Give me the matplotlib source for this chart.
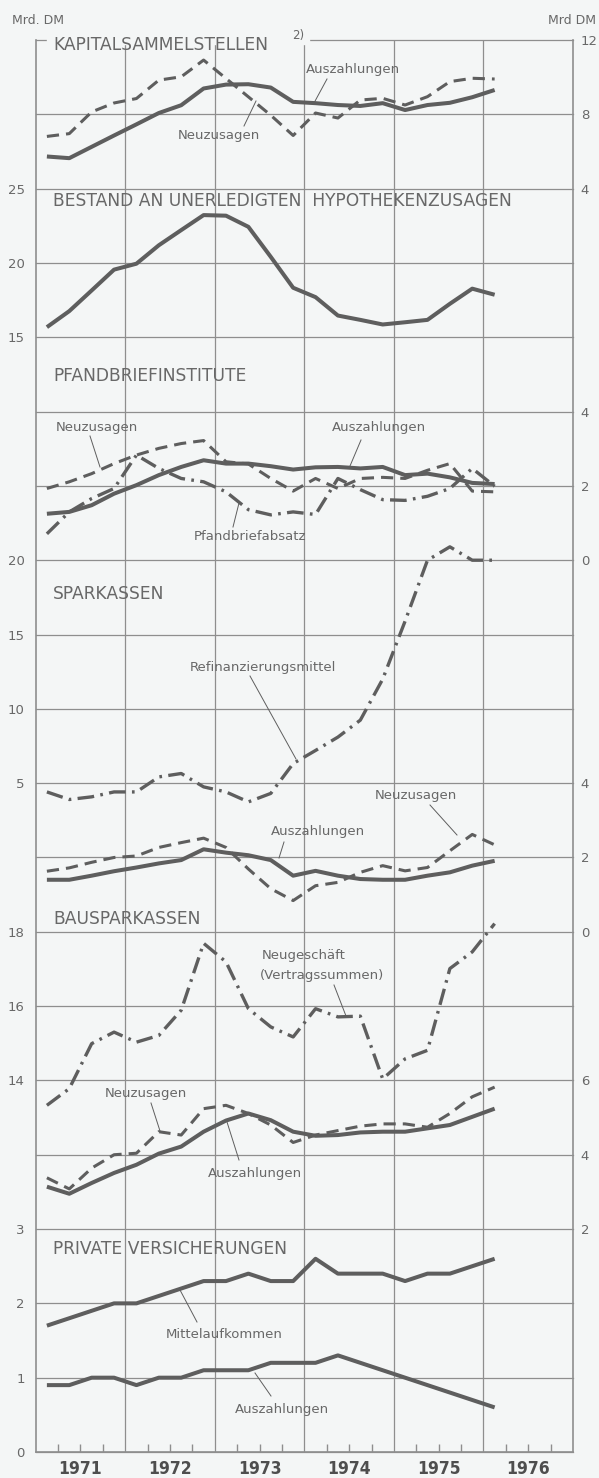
import matplotlib
matplotlib.use('Agg')
import matplotlib.pyplot as plt
import numpy as np
from matplotlib.patches import Rectangle

plt.rcParams['font.family'] = ['DejaVu Sans']

# ---------------- data (Mrd DM, quarterly 1971 Q1 .. 1976 Q1) ----------------
start_year = 1971
n_quarters = 21
year_labels = ['1971', '1972', '1973', '1974', '1975', '1976']

kap_auszahlungen = [5.73, 5.64, 6.25, 6.86, 7.46, 8.07, 8.49, 9.39, 9.60, 9.62, 9.44,
                    8.67, 8.60, 8.50, 8.45, 8.60, 8.23, 8.50, 8.62, 8.92, 9.31]
kap_neuzusagen = [6.81, 6.96, 8.13, 8.61, 8.85, 9.84, 10.02, 10.92, 9.93, 8.94, 7.95,
                  6.86, 8.07, 7.80, 8.77, 8.86, 8.50, 8.95, 9.76, 9.94, 9.90]
bestand = [15.68, 16.76, 18.15, 19.55, 19.95, 21.19, 22.21, 23.22, 23.18, 22.43, 20.41,
           18.33, 17.70, 16.46, 16.17, 15.86, 16.01, 16.17, 17.25, 18.27, 17.86]
pf_auszahlungen = [1.25, 1.30, 1.48, 1.79, 2.02, 2.29, 2.51, 2.69, 2.60, 2.60, 2.53,
                   2.44, 2.50, 2.51, 2.47, 2.51, 2.29, 2.33, 2.23, 2.08, 2.05]
pf_neuzusagen = [1.93, 2.11, 2.33, 2.60, 2.83, 3.01, 3.14, 3.22, 2.65, 2.59, 2.20,
                 1.86, 2.20, 1.93, 2.20, 2.23, 2.20, 2.42, 2.60, 1.86, 1.84]
pf_absatz = [0.71, 1.30, 1.66, 1.93, 2.83, 2.47, 2.20, 2.11, 1.84, 1.36, 1.22,
             1.30, 1.23, 2.20, 1.90, 1.63, 1.61, 1.72, 1.93, 2.47, 1.99]
sp_refinanz = [4.41, 3.90, 4.08, 4.41, 4.41, 5.42, 5.65, 4.75, 4.41, 3.74, 4.31,
               6.32, 7.20, 8.10, 9.24, 12.00, 15.90, 20.00, 20.90, 20.00, 20.00]
sp_neuzusagen = [1.63, 1.72, 1.87, 2.00, 2.04, 2.27, 2.40, 2.52, 2.27, 1.69, 1.16,
                 0.84, 1.24, 1.33, 1.60, 1.78, 1.64, 1.73, 2.18, 2.62, 2.34]
sp_auszahlungen = [1.40, 1.40, 1.51, 1.63, 1.73, 1.84, 1.93, 2.22, 2.13, 2.06, 1.93,
                   1.51, 1.64, 1.51, 1.42, 1.40, 1.40, 1.51, 1.60, 1.78, 1.91]
bs_neugeschaeft = [13.33, 13.78, 14.99, 15.30, 15.03, 15.21, 15.89, 17.69, 17.19, 15.93, 15.44,
                   15.17, 15.93, 15.71, 15.73, 14.04, 14.58, 14.81, 17.01, 17.46, 18.22]
bs_auszahlungen = [3.14, 2.95, 3.24, 3.51, 3.73, 4.03, 4.22, 4.62, 4.92, 5.11, 4.93,
                   4.62, 4.51, 4.53, 4.60, 4.62, 4.62, 4.71, 4.80, 5.02, 5.24]
bs_neuzusagen = [3.38, 3.08, 3.64, 4.00, 4.04, 4.62, 4.53, 5.24, 5.33, 5.11, 4.80,
                 4.33, 4.53, 4.65, 4.77, 4.83, 4.83, 4.74, 5.11, 5.56, 5.82]
pv_mittelaufkommen = [1.7, 1.8, 1.9, 2.0, 2.0, 2.1, 2.2, 2.3, 2.3, 2.4, 2.3,
                      2.3, 2.6, 2.4, 2.4, 2.4, 2.3, 2.4, 2.4, 2.5, 2.6]
pv_auszahlungen = [0.9, 0.9, 1.0, 1.0, 0.9, 1.0, 1.0, 1.1, 1.1, 1.1, 1.2,
                   1.2, 1.2, 1.3, 1.2, 1.1, 1.0, 0.9, 0.8, 0.7, 0.6]

# ---------------- styling ----------------
W, H = 599, 1478
BG = '#f4f6f6'
GRID = '#8e8e8e'
LINEC = '#5e5e5e'
TXT = '#686868'
NGRID = 19

x = start_year + 0.125 + 0.25 * np.arange(n_quarters)
years = [int(y) for y in year_labels]

fig = plt.figure(figsize=(W / 100, H / 100), dpi=100)
fig.patch.set_facecolor(BG)
L, R, B, T = 35.7, 573.0, 1452.0, 40.0
pos = [L / W, 1 - B / H, (R - L) / W, (B - T) / H]

base = fig.add_axes(pos)
base.set_facecolor(BG)
base.set_xlim(start_year, start_year + 6)
base.set_ylim(0, NGRID)
for k in range(NGRID + 1):
    base.axhline(k, color=GRID, lw=0.9, zorder=1, clip_on=False)
for yv in years[1:]:
    base.axvline(yv, color=GRID, lw=0.9, zorder=1)
for s in ['left', 'right', 'bottom']:
    base.spines[s].set_color(GRID)
    base.spines[s].set_linewidth(1.2)
base.spines['top'].set_visible(False)
base.set_yticks([3, 2, 1, 0])
base.tick_params(axis='y', length=0, pad=7.9, labelsize=9.5, labelcolor=TXT)
# quarter ticks (inside, pointing up) as major ticks without labels
base.set_xticks([y + q for y in years for q in (0.25, 0.5, 0.75)])
base.tick_params(axis='x', which='major', direction='in', length=6, width=1.0,
                 color=GRID, labelbottom=False)


def panel_axes(top_val, unit, side, ticks):
    ax = fig.add_axes(pos)
    ax.set_facecolor('none')
    ax.set_xlim(start_year, start_year + 6)
    ax.set_ylim(top_val - NGRID * unit, top_val)
    for s in ax.spines.values():
        s.set_visible(False)
    ax.tick_params(axis='x', which='both', bottom=False, labelbottom=False)
    ax.set_yticks(ticks)
    if side == 'left':
        ax.yaxis.tick_left()
        ax.tick_params(axis='y', length=0, pad=7.9, labelsize=9.5, labelcolor=TXT)
    else:
        ax.yaxis.tick_right()
        ax.tick_params(axis='y', length=0, pad=5.5, labelsize=9.5, labelcolor=TXT)
    return ax


SOLID = dict(color=LINEC, lw=2.9, solid_joinstyle='round', solid_capstyle='butt')
DASH = dict(color=LINEC, lw=2.2, ls=(0, (4, 2.3)), dash_joinstyle='round')
DASHDOT = dict(color=LINEC, lw=2.4, ls=(0, (5, 1.9, 0.8, 1.9)), dash_joinstyle='round')

p1 = panel_axes(12, 4, 'right', [12, 8, 4])
p1.plot(x, kap_neuzusagen, **DASH)
p1.plot(x, kap_auszahlungen, **SOLID)

p2 = panel_axes(35, 5, 'left', [25, 20, 15])
p2.plot(x, bestand, **SOLID)
# year labels centred in each year, below the bottom frame
p2.set_xticks([y + 0.5 for y in years], labels=year_labels)
p2.tick_params(axis='x', which='major', bottom=True, length=0, pad=6, labelbottom=True)
for lbl in p2.get_xticklabels():
    lbl.set_fontsize(12.5)
    lbl.set_fontweight('bold')
    lbl.set_fontstretch('condensed')
    lbl.set_color('#4e4e4e')

p3 = panel_axes(14, 2, 'right', [4, 2, 0])
p3.plot(x, pf_absatz, **DASHDOT)
p3.plot(x, pf_neuzusagen, **DASH)
p3.plot(x, pf_auszahlungen, **SOLID)

p4l = panel_axes(55, 5, 'left', [20, 15, 10, 5])
p4l.plot(x, sp_refinanz, **DASHDOT)
p4r = panel_axes(24, 2, 'right', [4, 2, 0])
p4r.plot(x, sp_neuzusagen, **DASH)
p4r.plot(x, sp_auszahlungen, **SOLID)

p5l = panel_axes(42, 2, 'left', [18, 16, 14])
p5l.plot(x, bs_neugeschaeft, **DASHDOT)
p5r = panel_axes(34, 2, 'right', [6, 4, 2])
p5r.plot(x, bs_neuzusagen, **DASH)
p5r.plot(x, bs_auszahlungen, **SOLID)

base.plot(x, pv_mittelaufkommen, zorder=3, **SOLID)
base.plot(x, pv_auszahlungen, zorder=3, **SOLID)

# ---------------- overlay for titles and annotations (pixel layout) ----------------
ov = fig.add_axes([0, 0, 1, 1])
ov.set_xlim(0, W)
ov.set_ylim(H, 0)
ov.axis('off')
ov.add_patch(Rectangle((47, 36.5), 262, 7, color=BG, zorder=2))

ov.text(12, 20, 'Mrd. DM', ha='left', va='center', fontsize=9, color=TXT)
ov.text(596, 20, 'Mrd DM', ha='right', va='center', fontsize=9, color=TXT)

TITLE = dict(ha='left', va='center', fontsize=12.3, color=TXT)
ov.text(53, 45, 'KAPITALSAMMELSTELLEN', **TITLE)
ov.text(298, 35, '2)', ha='center', va='center', fontsize=8.5, color=TXT)
ov.text(53, 201, 'BESTAND AN UNERLEDIGTEN  HYPOTHEKENZUSAGEN', **TITLE)
ov.text(53, 376, 'PFANDBRIEFINSTITUTE', **TITLE)
ov.text(53, 594, 'SPARKASSEN', **TITLE)
ov.text(53, 919, 'BAUSPARKASSEN', **TITLE)
ov.text(53, 1249, 'PRIVATE VERSICHERUNGEN', **TITLE)

LAB = dict(ha='center', va='center', fontsize=9.5, color=TXT)
labels = [
    ('Auszahlungen', 353, 69, (327, 79), (314, 103)),
    ('Neuzusagen', 219, 135, (244, 126), (256, 101)),
    ('Neuzusagen', 97, 428, (90, 436), (100, 467)),
    ('Auszahlungen', 379, 428, (361, 440), (350, 466)),
    ('Pfandbriefabsatz', 250, 537, (233, 527), (239, 503)),
    ('Refinanzierungsmittel', 263, 667, (250, 676), (296, 759)),
    ('Neuzusagen', 416, 795, (430, 805), (457, 835)),
    ('Auszahlungen', 318, 832, (284, 842), (279, 858)),
    ('Neuzusagen', 146, 1093, (151, 1103), (160, 1131)),
    ('Auszahlungen', 255, 1173, (239, 1160), (227, 1122)),
    ('Mittelaufkommen', 224, 1335, (197, 1322), (180, 1290)),
    ('Auszahlungen', 282, 1409, (271, 1396), (255, 1373)),
]
for text, tx, ty, p0, p1_ in labels:
    ov.text(tx, ty, text, **LAB)
    ov.plot([p0[0], p1_[0]], [p0[1], p1_[1]], color=LINEC, lw=0.7)

ov.text(262, 955, 'Neugeschäft', ha='left', va='center', fontsize=9.5, color=TXT)
ov.text(260, 975, '(Vertragssummen)', ha='left', va='center', fontsize=9.5, color=TXT)
ov.plot([334, 346], [985, 1016], color=LINEC, lw=0.7)

fig.savefig('out.png', dpi=100, facecolor=BG)
